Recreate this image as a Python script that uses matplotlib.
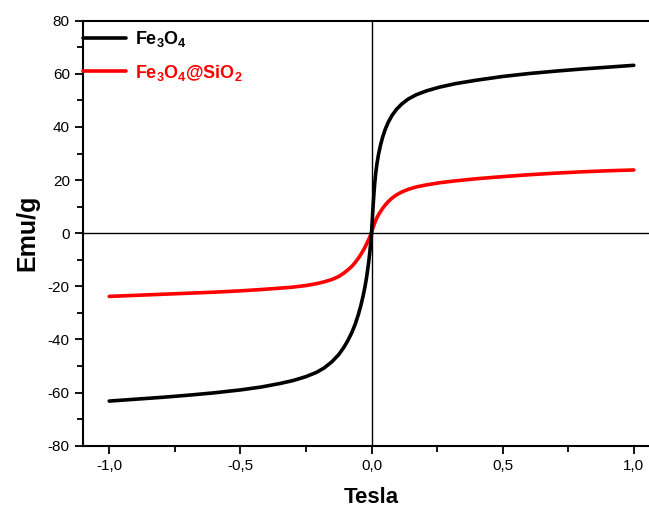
import matplotlib
matplotlib.use("Agg")
import matplotlib.pyplot as plt
import numpy as np

plt.rcParams['font.family'] = ['Liberation Sans', 'DejaVu Sans']
plt.rcParams['mathtext.fontset'] = 'custom'
plt.rcParams['mathtext.rm'] = 'Liberation Sans:bold'
plt.rcParams['mathtext.bf'] = 'Liberation Sans:bold'
plt.rcParams['mathtext.it'] = 'Liberation Sans:bold'
plt.rcParams['axes.unicode_minus'] = False

# field (Tesla) and magnetisation (emu/g)
field = [-1.0, -0.9, -0.8, -0.7, -0.6, -0.5, -0.42, -0.35, -0.3, -0.25,
         -0.21, -0.18, -0.15, -0.125, -0.105, -0.09, -0.075, -0.062, -0.05, -0.04,
         -0.032, -0.025, -0.019, -0.014, -0.01, -0.006, -0.003, 0.0, 0.003, 0.006,
         0.009, 0.012, 0.016, 0.021, 0.027, 0.034, 0.042, 0.052, 0.064, 0.078,
         0.095, 0.115, 0.14, 0.17, 0.21, 0.26, 0.32, 0.4, 0.5, 0.6,
         0.7, 0.8, 0.9, 1.0]
m_fe3o4 = [-63.2, -62.5, -61.8, -61.0, -60.1, -59.0, -57.9, -56.6, -55.5, -54.0,
           -52.4, -50.7, -48.3, -45.7, -42.9, -40.4, -37.4, -34.2, -30.6, -27.0,
           -23.6, -20.2, -16.8, -13.4, -10.3, -6.8, -3.6, 0.0, 5.0, 10.0,
           14.5, 18.5, 22.5, 26.3, 29.8, 33.0, 36.0, 39.0, 41.8, 44.3,
           46.6, 48.6, 50.5, 52.1, 53.6, 55.0, 56.3, 57.6, 59.0, 60.1,
           61.0, 61.8, 62.5, 63.2]
m_fe3o4_sio2 = [-23.8, -23.4, -23.0, -22.6, -22.2, -21.7, -21.2, -20.7, -20.3, -19.7,
                -19.0, -18.3, -17.4, -16.3, -15.0, -13.8, -12.5, -11.0, -9.4, -7.9,
                -6.6, -5.3, -4.1, -3.0, -2.2, -1.3, -0.6, 0.3, 1.2, 2.1,
                3.0, 3.8, 4.8, 5.9, 7.0, 8.1, 9.3, 10.6, 11.9, 13.2,
                14.4, 15.5, 16.5, 17.4, 18.2, 19.0, 19.7, 20.5, 21.3, 22.0,
                22.6, 23.1, 23.5, 23.8]

fig = plt.figure(figsize=(6.49, 5.13), dpi=100)
ax = fig.add_axes([83/649, 67.3/513, 577/649, 425/513])

ax.axhline(0, color='black', lw=1.0, zorder=1)
ax.axvline(0, color='black', lw=1.0, zorder=1)

ax.plot(field, m_fe3o4, color='black', lw=2.6, solid_capstyle='round',
        solid_joinstyle='round', label=r'Fe$_{3}$O$_{4}$', zorder=3)
ax.plot(field, m_fe3o4_sio2, color='#ff0000', lw=2.6, solid_capstyle='round',
        solid_joinstyle='round', label=r'Fe$_{3}$O$_{4}$@SiO$_{2}$', zorder=2)

ax.set_xlim(-1.1, 1.1)
ax.set_ylim(-80, 80)
ax.set_xticks([-1.0, -0.5, 0.0, 0.5, 1.0])
ax.set_xticklabels(['-1,0', '-0,5', '0,0', '0,5', '1,0'])
ax.set_xticks([-0.75, -0.25, 0.25, 0.75], minor=True)
ax.set_yticks(np.arange(-80, 81, 20))
ax.set_yticks(np.arange(-70, 71, 20), minor=True)

ax.tick_params(which='both', direction='out', top=False, right=False, width=1.3, labelsize=11)
ax.tick_params(which='major', length=6)
ax.tick_params(which='minor', length=4)
for s in ax.spines.values():
    s.set_linewidth(1.5)
ax.spines['right'].set_visible(False)

ax.set_xlabel('Tesla', fontsize=16, fontweight='bold', labelpad=10)
ax.set_ylabel('Emu/g', fontsize=18, fontweight='bold', labelpad=6)

leg = ax.legend(loc='upper left', bbox_to_anchor=(0.0, 0.98), frameon=False, fontsize=13,
                handlelength=2.4, handletextpad=0.5, labelspacing=0.75, borderaxespad=0.0,
                borderpad=0.0)
for txt, c in zip(leg.get_texts(), ['black', '#ff0000']):
    txt.set_color(c)
    txt.set_fontweight('bold')

fig.savefig('out.png', dpi=100)
